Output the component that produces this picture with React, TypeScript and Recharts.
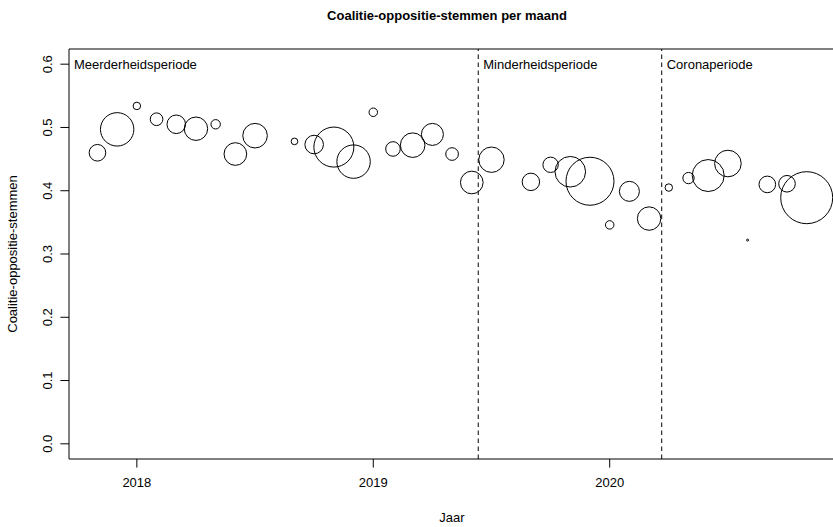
import {
  ScatterChart,
  Scatter,
  XAxis,
  YAxis,
  ZAxis,
  ReferenceLine,
  ReferenceArea,
  ReferenceDot,
} from 'recharts';

// maand, aandeel coalitie-oppositie-stemmen, omvang (aantal stemmingen)
const months = [
  '2017-11', '2017-12', '2018-01', '2018-02', '2018-03', '2018-04', '2018-05', '2018-06', '2018-07',
  '2018-09', '2018-10', '2018-11', '2018-12', '2019-01', '2019-02', '2019-03', '2019-04', '2019-05',
  '2019-06', '2019-07', '2019-09', '2019-10', '2019-11', '2019-12', '2020-01', '2020-02', '2020-03',
  '2020-04', '2020-05', '2020-06', '2020-07', '2020-08', '2020-09', '2020-10', '2020-11',
];
const shares = [
  0.46, 0.497, 0.534, 0.513, 0.505, 0.498, 0.505, 0.458, 0.487,
  0.478, 0.473, 0.469, 0.446, 0.524, 0.466, 0.472, 0.489, 0.458,
  0.413, 0.449, 0.414, 0.441, 0.43, 0.415, 0.346, 0.399, 0.356,
  0.405, 0.42, 0.424, 0.443, 0.322, 0.41, 0.411, 0.389,
];
const counts = [
  6.9, 27.9, 1.4, 4.0, 8.6, 13.7, 2.2, 12.8, 15.1,
  1.1, 8.6, 40, 27.9, 1.8, 5.3, 15.1, 12.1, 4.0,
  12.8, 16.1, 7.6, 5.9, 23.4, 57.6, 1.8, 10, 13.7,
  1.4, 3.2, 25.6, 17.7, 0.1, 6.9, 6.9, 67.6,
];

const periodStarts = [2017.713, 2019.444, 2020.22];
const periodNames = ['Meerderheidsperiode', 'Minderheidsperiode', 'Coronaperiode'];
const breaks = [2019.444, 2020.22];

const xTicks = [2018, 2019, 2020];
const yTicks = [0, 0.1, 0.2, 0.3, 0.4, 0.5, 0.6];

const X_MIN = 2017.713;
const X_MAX = 2020.953;
const Y_MIN = -0.024;
const Y_MAX = 0.624;

const FONT = '"Liberation Sans", Arial, Helvetica, sans-serif';
const PLOT_LEFT = 69;
const PLOT_BOTTOM = 459;

const data = months.map((m, i) => {
  const [yr, mo] = m.split('-').map(Number);
  return { x: yr + (mo - 1) / 12, y: shares[i], n: counts[i] };
});

function XTick({ x, payload }: any) {
  return (
    <text x={x} y={PLOT_BOTTOM + 28} textAnchor="middle" fontSize={13} fontFamily={FONT} fill="#000">
      {payload.value}
    </text>
  );
}

function YTick({ y, payload }: any) {
  const tx = 52;
  return (
    <text
      x={tx}
      y={y}
      transform={`rotate(-90 ${tx} ${y})`}
      textAnchor="middle"
      fontSize={13}
      fontFamily={FONT}
      fill="#000"
    >
      {payload.value.toFixed(1)}
    </text>
  );
}

export default function App() {
  return (
    <div
      style={{
        position: 'fixed',
        left: 0,
        top: 0,
        width: 833,
        height: 527,
        overflow: 'hidden',
        background: '#fff',
      }}
    >
      <ScatterChart width={845} height={527} margin={{ top: 49, right: 10, bottom: 0, left: 0 }}>
        <XAxis
          type="number"
          dataKey="x"
          domain={[X_MIN, X_MAX]}
          ticks={xTicks}
          allowDataOverflow
          axisLine={false}
          tickLine={{ stroke: '#000' }}
          tickSize={8.6}
          height={68}
          tick={<XTick />}
        />
        <YAxis
          type="number"
          dataKey="y"
          domain={[Y_MIN, Y_MAX]}
          ticks={yTicks}
          allowDataOverflow
          axisLine={false}
          tickLine={{ stroke: '#000' }}
          tickSize={8.6}
          width={PLOT_LEFT}
          tick={<YTick />}
        />
        <ZAxis type="number" dataKey="n" domain={[0, 67.6]} range={[0, 2124]} />
        <ReferenceArea
          x1={X_MIN}
          x2={X_MAX}
          y1={Y_MIN}
          y2={Y_MAX}
          fill="none"
          stroke="#000"
          strokeWidth={1}
        />
        {breaks.map((b) => (
          <ReferenceLine key={b} x={b} stroke="#000" strokeWidth={1} strokeDasharray="4.5 3.5" />
        ))}
        {periodStarts.map((p, i) => (
          <ReferenceDot
            key={periodNames[i]}
            x={p}
            y={0.6}
            r={0}
            fill="none"
            stroke="none"
            label={{
              value: periodNames[i],
              position: 'right',
              offset: 5,
              fontSize: 13,
              fontFamily: FONT,
              fill: '#000',
            }}
          />
        ))}
        <Scatter
          data={data}
          shape="circle"
          fill="none"
          stroke="#000"
          strokeWidth={1}
          isAnimationActive={false}
        />
      </ScatterChart>
      <svg
        width={833}
        height={527}
        style={{ position: 'absolute', left: 0, top: 0, pointerEvents: 'none' }}
      >
        <text x={447} y={20} textAnchor="middle" fontSize={13} fontWeight="bold" fontFamily={FONT} fill="#000">
          Coalitie-oppositie-stemmen per maand
        </text>
        <text x={452} y={522} textAnchor="middle" fontSize={13} fontFamily={FONT} fill="#000">
          Jaar
        </text>
        <text
          x={17}
          y={254}
          transform="rotate(-90 17 254)"
          textAnchor="middle"
          fontSize={13}
          fontFamily={FONT}
          fill="#000"
        >
          Coalitie-oppositie-stemmen
        </text>
      </svg>
    </div>
  );
}
